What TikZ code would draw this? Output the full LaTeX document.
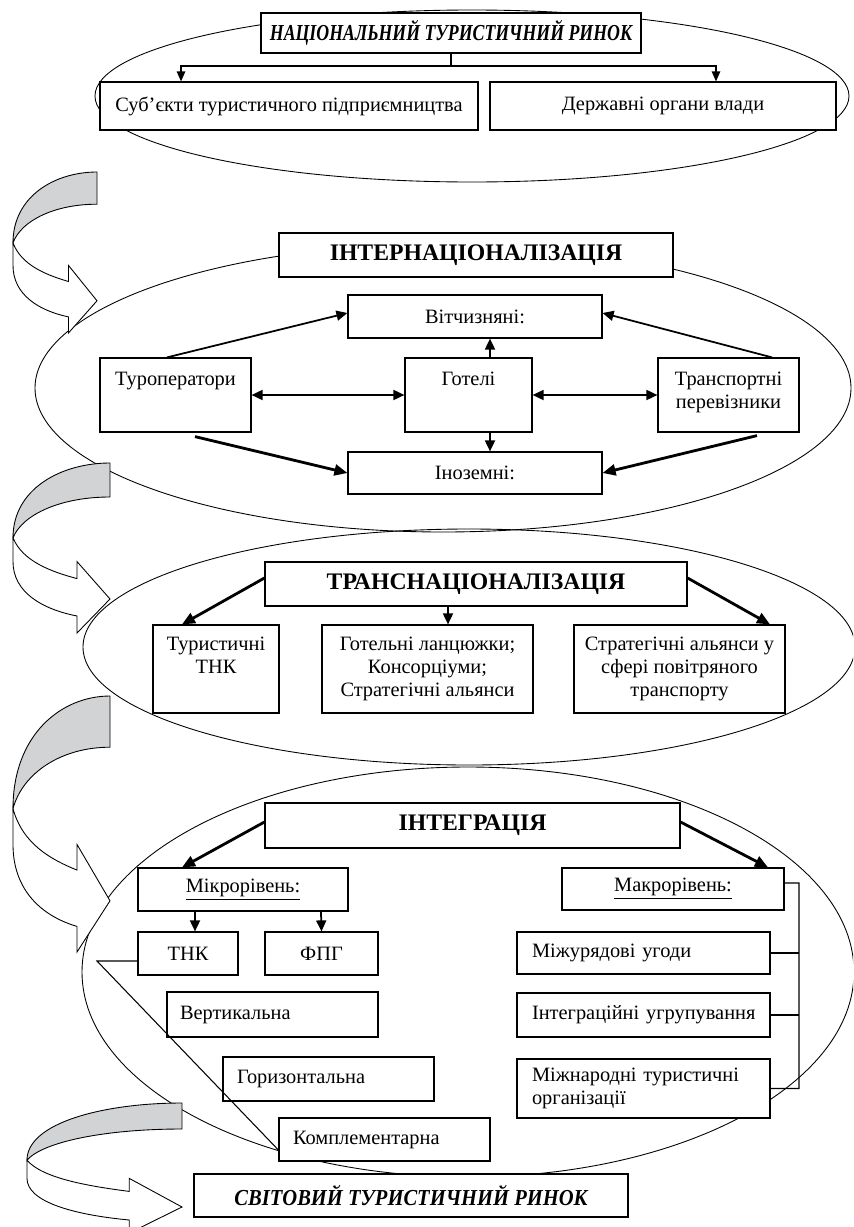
\documentclass[tikz,border=0pt]{standalone}
\usepackage{fontspec}
\setmainfont{Liberation Serif}
\newfontfamily\condserif{Liberation Serif}[FakeStretch=0.78]
\newfontfamily\semiserif{Liberation Serif}[FakeStretch=0.9]
\usetikzlibrary{arrows.meta,positioning}
\definecolor{bandgray}{RGB}{210,211,213}
\newcommand{\topcell}[4]{\parbox[c][#2][t]{#1}{\centering\vspace*{#3}#4}}
\tikzset{
  bx/.style={draw,fill=white,line width=0.7pt,inner sep=0pt,align=center,
             font=\fontsize{11.6}{13}\selectfont},
  hbx/.style={bx,font=\fontsize{13.5}{15}\selectfont\bfseries},
  ibx/.style={bx,font=\fontsize{13}{15}\selectfont\condserif\bfseries\itshape},
  wbx/.style={bx,font=\fontsize{13}{15}\selectfont\semiserif\bfseries\itshape},
  lbx/.style={bx,align=left},
  oval/.style={draw,line width=0.5pt},
  lead/.style={line width=0.6pt},
  arr/.style={-{Triangle[length=0.22cm,width=0.2cm]},line width=1pt},
  arrd/.style={{Triangle[length=0.22cm,width=0.2cm]}-{Triangle[length=0.22cm,width=0.2cm]},line width=1pt},
  arrb/.style={-{Triangle[length=0.26cm,width=0.22cm]},line width=1.6pt},
  arrs/.style={-{Triangle[length=0.2cm,width=0.17cm]},line width=0.7pt},
  twistarr/.pic={
    \draw[line width=0.5pt,fill=bandgray] (0,0) .. controls (-0.5,0) and (-1,0.15) .. (-1,0.44)
      .. controls (-0.9,0.3) and (-0.5,0.2) .. (0,0.2) -- cycle;
    \draw[line width=0.5pt,fill=white] (-1,0.44) .. controls (-0.9,0.58) and (-0.6,0.64) .. (-0.34,0.68)
      -- (-0.34,0.58) -- (0,0.8) -- (-0.34,1) -- (-0.34,0.9)
      .. controls (-0.7,0.86) and (-1,0.76) .. (-1,0.58) -- cycle;
  },
}

\begin{document}
\begin{tikzpicture}[x=0.02cm,y=-0.02cm]
  \useasboundingbox (0,0) rectangle (853,1227);
  \clip (0,0) rectangle (853,1227);

  % stage ovals
  \draw[oval] (472,96) ellipse [x radius=377,y radius=86];
  \draw[oval] (443,388) ellipse [x radius=408,y radius=144];
  \draw[oval] (469,647) ellipse [x radius=386,y radius=118];
  \draw[oval] (468,972) ellipse [x radius=386,y radius=205];

  % curved arrows between stages
  \pic[xscale=84,yscale=161] at (97,172) {twistarr};
  \pic[xscale=97,yscale=170] at (110,463) {twistarr};
  \pic[xscale=97,yscale=256] at (110,696) {twistarr};
  \pic[xscale=155,yscale=130] at (182,1103) {twistarr};

  % national market
  \node[ibx,minimum width=7.6cm,minimum height=0.8cm] (natm) at (451,33) {НАЦІОНАЛЬНИЙ ТУРИСТИЧНИЙ РИНОК};
  \node[bx,minimum width=7.56cm,minimum height=0.96cm] (subj) at (289,106) {Суб’єкти туристичного підприємництва};
  \node[bx,minimum width=6.92cm,minimum height=0.96cm] (gov) at (663,106) {Державні органи влади};
  \coordinate (natj) at (451,66);
  \draw[lead] (natm.south) -- (natj);
  \draw[arrs] (natj) -| ([xshift=-2.16cm]subj.north);
  \draw[arrs] (natj) -| ([xshift=1.06cm]gov.north);

  % internationalisation
  \node[hbx,minimum width=7.88cm,minimum height=0.88cm] (intl) at (476,255) {ІНТЕРНАЦІОНАЛІЗАЦІЯ};
  \node[bx,minimum width=5.08cm,minimum height=0.86cm] (dom) at (475,316.5) {Вітчизняні:};
  \node[bx] (tour) at (175.5,395) {\topcell{3.02cm}{1.48cm}{0.28cm}{Туроператори}};
  \node[bx] (hotel) at (468.5,395) {\topcell{2.54cm}{1.48cm}{0.28cm}{Готелі}};
  \node[bx] (trans) at (728.5,395) {\topcell{2.82cm}{1.48cm}{0.28cm}{Транспортні\\перевізники}};
  \node[bx,minimum width=5.08cm,minimum height=0.84cm] (forg) at (475,473) {Іноземні:};

  \draw[arr] ([xshift=-0.17cm]tour.north) -- ([yshift=0.07cm]dom.west);
  \draw[arr] ([xshift=0.87cm]trans.north) -- ([yshift=0.07cm]dom.east);
  \draw[arrd] (tour) -- (hotel);
  \draw[arrd] (hotel) -- (trans);
  \draw[arr] ([xshift=0.43cm]hotel.north) -- ([xshift=0.3cm]dom.south);
  \draw[arr] ([xshift=0.43cm]hotel.south) -- ([xshift=0.3cm]forg.north);
  \draw[arrb] ([xshift=0.39cm,yshift=-0.08cm]tour.south) -- (forg.west);
  \draw[arrb] ([xshift=0.57cm,yshift=-0.06cm]trans.south) -- (forg.east);

  % transnationalisation
  \node[hbx,minimum width=8.44cm,minimum height=0.88cm] (tnat) at (476,584) {ТРАНСНАЦІОНАЛІЗАЦІЯ};
  \node[bx] (ttnk) at (216,669) {\topcell{2.52cm}{1.76cm}{0.24cm}{Туристичні\\ТНК}};
  \node[bx] (hchain) at (427.5,669) {\topcell{4.22cm}{1.76cm}{0.24cm}{Готельні ланцюжки;\\Консорціуми;\\Стратегічні альянси}};
  \node[bx] (salli) at (679.5,669) {\topcell{4.22cm}{1.76cm}{0.24cm}{Стратегічні альянси у\\сфері повітряного\\транспорту}};

  \draw[arrb] ([yshift=0.12cm]tnat.west) -- ([xshift=-0.68cm]ttnk.north);
  \draw[arr] ([xshift=-0.56cm]tnat.south) -- ([xshift=0.41cm]hchain.north);
  \draw[arrb] ([yshift=0.12cm]tnat.east) -- ([xshift=1.81cm]salli.north);

  % integration
  \node[hbx,minimum width=8.3cm,minimum height=0.9cm] (integ) at (472.5,825.5) {ІНТЕГРАЦІЯ};
  \node[bx,minimum width=4.2cm,minimum height=0.86cm] (micro) at (243,889.5) {\underline{Мікрорівень:}};
  \node[bx,minimum width=4.44cm,minimum height=0.84cm] (macro) at (673,889) {\underline{Макрорівень:}};
  \node[bx,minimum width=2cm,minimum height=0.86cm] (tnk) at (188,953.5) {ТНК};
  \node[bx,minimum width=2.26cm,minimum height=0.86cm] (fpg) at (321.5,953.5) {ФПГ};
  \node[lbx,minimum width=4.22cm,minimum height=0.9cm,text width=3.7cm] (vert) at (272.5,1014.5) {Вертикальна};
  \node[lbx,minimum width=4.22cm,minimum height=0.88cm,text width=3.66cm] (horiz) at (328.5,1079) {Горизонтальна};
  \node[lbx,minimum width=4.22cm,minimum height=0.86cm,text width=3.66cm] (compl) at (384.5,1139.5) {Комплементарна};
  \node[lbx,minimum width=5.06cm,minimum height=0.84cm,text width=4.46cm] (agree) at (643.5,953) {Міжурядові угоди};
  \node[lbx,minimum width=5.06cm,minimum height=0.88cm,text width=4.46cm] (group) at (643.5,1015) {\mbox{Інтеграційні угрупування}};
  \node[lbx,minimum width=5.06cm,minimum height=1.18cm,text width=4.46cm] (intorg) at (643.5,1088.5) {Міжнародні туристичні\\організації};

  \draw[arrb] ([yshift=0.07cm]integ.west) -- ([xshift=-1.22cm]micro.north);
  \draw[arrb] ([yshift=0.07cm]integ.east) -- ([xshift=1.9cm]macro.north);
  \draw[arr] ([xshift=-0.96cm]micro.south) -- ([xshift=0.14cm]tnk.north);
  \draw[arr] ([xshift=1.56cm]micro.south) -- (fpg.north);

  \coordinate (cpt) at (97,961);
  \draw[lead] ([yshift=-0.15cm]tnk.west) -- (cpt) -- ([yshift=-0.21cm]compl.west);

  \coordinate (rail) at (799,883);
  \draw[lead] ([yshift=0.12cm]macro.east) -- (rail) |- (intorg.east);
  \draw[lead] (agree.east) -- (rail |- agree.east);
  \draw[lead] (group.east) -- (rail |- group.east);

  % world market
  \node[wbx,minimum width=8.68cm,minimum height=0.86cm] (world) at (411,1195.5) {СВІТОВИЙ ТУРИСТИЧНИЙ РИНОК};
\end{tikzpicture}
\end{document}
